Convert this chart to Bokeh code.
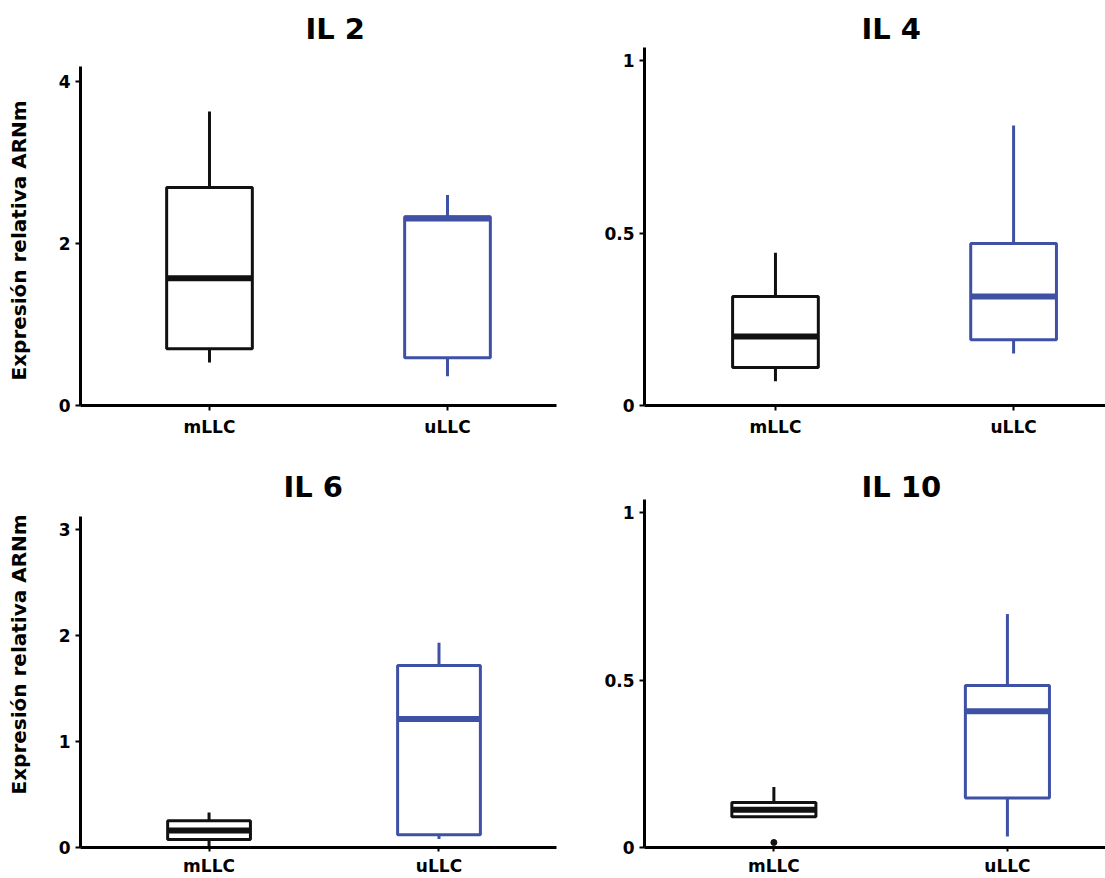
from bokeh.plotting import figure
from bokeh.layouts import column, row
from bokeh.models import Range1d, FixedTicker, NumeralTickFormatter, ColumnDataSource, Title
from bokeh.embed import file_html
from bokeh.resources import INLINE

groups = ["mLLC", "uLLC"]
colors = ["#111111", "#3F51A5"]
ylabel = "Expresión relativa ARNm"

# IL 2
il2_low = [0.53, 0.36]
il2_q1 = [0.70, 0.59]
il2_med = [1.57, 2.31]
il2_q3 = [2.69, 2.33]
il2_high = [3.63, 2.60]
il2_ticks = [0, 2, 4]

# IL 4
il4_low = [0.07, 0.151]
il4_q1 = [0.110, 0.191]
il4_med = [0.200, 0.316]
il4_q3 = [0.316, 0.470]
il4_high = [0.443, 0.812]
il4_ticks = [0, 0.5, 1]

# IL 6
il6_low = [0.01, 0.08]
il6_q1 = [0.075, 0.12]
il6_med = [0.16, 1.21]
il6_q3 = [0.253, 1.715]
il6_high = [0.33, 1.93]
il6_ticks = [0, 1, 2, 3]

# IL 10
il10_low = [0.092, 0.033]
il10_q1 = [0.092, 0.148]
il10_med = [0.113, 0.407]
il10_q3 = [0.134, 0.484]
il10_high = [0.181, 0.697]
il10_ticks = [0, 0.5, 1]
il10_outlier_group = [0]
il10_outlier_val = [0.015]

FONT = "DejaVu Sans"
BOX_W = 0.36


def make_panel(title, low, q1, med, q3, high, ticks, y_end, y_axis_top,
               x_start, x_end, width, height, b_left, b_right, b_top, b_bottom,
               title_standoff, title_offset, ylabel_offset,
               x_tick_out=5, x_label_standoff=6, out_x=None, out_y=None):
    p = figure(width=width, height=height, output_backend="svg",
               toolbar_location=None, tools="",
               x_range=Range1d(x_start, x_end), y_range=Range1d(0, y_end),
               min_border_left=b_left, min_border_right=b_right,
               min_border_top=b_top, min_border_bottom=b_bottom)
    xs = list(range(len(groups)))
    src = ColumnDataSource(dict(
        x=xs, low=low, q1=q1, med=med, q3=q3, high=high, color=colors,
        left=[x - BOX_W / 2 for x in xs], right=[x + BOX_W / 2 for x in xs]))
    p.segment(x0="x", y0="q3", x1="x", y1="high", line_color="color",
              line_width=3, source=src)
    p.segment(x0="x", y0="q1", x1="x", y1="low", line_color="color",
              line_width=3, source=src)
    p.vbar(x="x", width=BOX_W, bottom="q1", top="q3", fill_color="white",
           line_color="color", line_width=3, source=src)
    p.segment(x0="left", y0="med", x1="right", y1="med", line_color="color",
              line_width=6, line_cap="butt", source=src)
    if out_x is not None:
        p.scatter(x=out_x, y=out_y, size=6, color=colors[0])

    p.title.text = title
    p.title.text_font = FONT
    p.title.text_font_size = "29px"
    p.title.text_font_style = "bold"
    p.title.text_color = "black"
    p.title.align = "left"
    p.title.standoff = title_standoff
    p.title.offset = title_offset

    p.xgrid.visible = False
    p.ygrid.visible = False
    p.outline_line_color = None

    for ax in (p.xaxis[0], p.yaxis[0]):
        ax.axis_line_width = 3
        ax.axis_line_color = "black"
        ax.major_tick_line_width = 2
        ax.major_tick_line_color = "black"
        ax.major_tick_in = 0
        ax.major_tick_out = 5
        ax.minor_tick_line_color = None
        ax.major_label_text_font = FONT
        ax.major_label_text_font_size = "17px"
        ax.major_label_text_font_style = "bold"
        ax.major_label_text_color = "black"

    p.xaxis.ticker = FixedTicker(ticks=xs)
    p.xaxis.major_label_overrides = {i: g for i, g in enumerate(groups)}
    p.xaxis.major_tick_out = x_tick_out
    p.xaxis.major_label_standoff = x_label_standoff
    p.yaxis.ticker = FixedTicker(ticks=ticks)
    p.yaxis.formatter = NumeralTickFormatter(format="0.[0]")
    p.yaxis.major_label_standoff = 5
    p.yaxis.bounds = (0, y_axis_top)
    if ylabel_offset is not None:
        t = Title(text=ylabel, text_font=FONT, text_font_size="20px",
                  text_font_style="bold", text_color="black", align="left",
                  offset=ylabel_offset, standoff=4,
                  padding=dict(left=0, right=0, top=0, bottom=23))
        p.add_layout(t, "left")
    return p


LW, RW = 600, 505
H1, H2 = 450, 428

p1 = make_panel("IL 2", il2_low, il2_q1, il2_med, il2_q3, il2_high, il2_ticks,
                4.42, 4.19, -0.542, 1.458, LW, H1, 80, 44, 47, 45, 3.5, 225, 25)
p2 = make_panel("IL 4", il4_low, il4_q1, il4_med, il4_q3, il4_high, il4_ticks,
                1.038, 1.038, -0.55, 1.386, RW, H1, 44, 0, 47, 45, 3.5, 217, None)
p3 = make_panel("IL 6", il6_low, il6_q1, il6_med, il6_q3, il6_high, il6_ticks,
                3.28, 3.12, -0.559, 1.511, LW, H2, 80, 44, 49, 29, -8, 203, 53,
                x_tick_out=4, x_label_standoff=4)
p4 = make_panel("IL 10", il10_low, il10_q1, il10_med, il10_q3, il10_high,
                il10_ticks, 1.039, 1.039, -0.554, 1.42, RW, H2, 44, 0, 49, 29,
                -8, 217, None, x_tick_out=4, x_label_standoff=4,
                out_x=il10_outlier_group, out_y=il10_outlier_val)

layout = column(row(p1, p2), row(p3, p4))
open("out.html", "w").write(file_html(layout, INLINE))
